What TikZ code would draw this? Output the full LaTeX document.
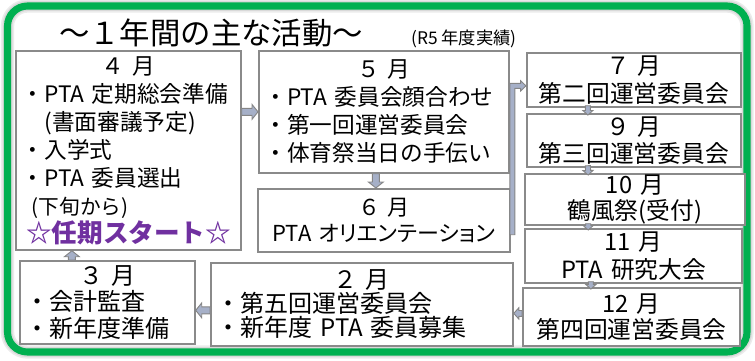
\documentclass[tikz,border=0pt]{standalone}
\usepackage{fontspec}
\setmainfont{Noto Sans CJK JP}
\newfontfamily\jpp[RawFeature=+palt]{Noto Sans CJK JP}
\usetikzlibrary{calc}
\definecolor{framegreen}{HTML}{00B050}
\definecolor{boxline}{HTML}{8A8A8A}
\definecolor{arrfill}{HTML}{A6B0C8}
\definecolor{arrline}{HTML}{858585}
\definecolor{purp}{HTML}{7030A0}
\tikzset{
  box/.style={draw=boxline, line width=1.3pt, fill=white, anchor=north west,
    inner xsep=4pt, inner ysep=0pt, align=left},
  cbox/.style={box, align=center},
  blkh/.store in=\blkh, blkH/.store in=\blkH, blkL/.store in=\blkL,
  blk/.style={draw=arrline, fill=arrfill, line width=0.7pt, line join=miter,
    blkh=2.6pt, blkH=5.6pt, blkL=4.5pt,
    to path={let \p1=(\tikztostart), \p2=(\tikztotarget), \p3=($(\p2)!\blkL!(\p1)$) in
      ($(\p1)!\blkh!90:(\p2)$) -- ($(\p3)!\blkh!90:(\p2)$) -- ($(\p3)!\blkH!90:(\p2)$)
      -- (\p2) -- ($(\p3)!\blkH!-90:(\p2)$) -- ($(\p3)!\blkh!-90:(\p2)$)
      -- ($(\p1)!\blkh!-90:(\p2)$) -- cycle}},
  blksmall/.style={blk, blkh=1.9pt, blkH=3.8pt, blkL=3.4pt},
  bent/.style={draw=arrline, fill=arrfill, line width=0.7pt, line join=miter,
    to path={let \p1=(\tikztostart), \p2=(\tikztotarget) in
      (\x1-1.9pt,\y1) -- (\x1-1.9pt,\y2+1.9pt) -- (\x2-4pt,\y2+1.9pt) -- (\x2-4pt,\y2+3.8pt)
      -- (\x2,\y2) -- (\x2-4pt,\y2-3.8pt) -- (\x2-4pt,\y2-1.9pt) -- (\x1+1.9pt,\y2-1.9pt)
      -- (\x1+1.9pt,\y1) -- cycle}}
}
\begin{document}
\begin{tikzpicture}[x=0.75pt,y=-0.75pt]
\useasboundingbox (0,0) rectangle (755,360);
% frame with soft shadow
\draw[black!8, line width=10pt, rounded corners=15pt] (7.5,6) rectangle (747,352);
\draw[black!15, line width=7.5pt, rounded corners=15pt] (7.5,6) rectangle (747,352);
\draw[framegreen, line width=5.3pt, rounded corners=15pt] (7.5,6) rectangle (747,352);

\node[font=\fontsize{22.8}{26}\selectfont, inner sep=0pt] (title) at (211,33) {〜１年間の主な活動〜};
\node[font=\fontsize{13}{15}\selectfont, inner sep=0pt] (sub) at (464,38.5) {(R5 年度実績)};

\node[box, minimum width=168.75pt, minimum height=149.25pt, text width=160pt,
  font=\fontsize{17}{21}\selectfont] (a4) at (15,50)
  {\makebox[\hsize]{４ 月}\\・PTA 定期総会準備\\\hspace*{1em}(書面審議予定)\\・入学式\\・PTA 委員選出\\%
   \hspace*{0.45em}{\fontsize{15.5}{21}\selectfont(下旬から)}\\\hspace*{0.2em}{\fontsize{19.2}{22}\selectfont\bfseries\color{purp}☆任期スタート☆}};

\node[box, minimum width=187.5pt, minimum height=91.5pt, text width=179pt,
  font=\fontsize{17}{21}\selectfont] (a5) at (258,50)
  {\makebox[\hsize]{５ 月}\\・PTA 委員会顔合わせ\\・第一回運営委員会\\・体育祭当日の手伝い};

\node[cbox, minimum width=189pt, minimum height=47.25pt, text width=181pt,
  font=\fontsize{16.5}{20}\selectfont] (a6) at (257,188)
  {６ 月\\{\jpp PTA オリエンテーション}};

\node[cbox, minimum width=160.5pt, minimum height=40.5pt, text width=152pt,
  font=\fontsize{17.8}{21}\selectfont] (a7) at (526,52) {７ 月\\第二回運営委員会};
\node[cbox, minimum width=160.5pt, minimum height=39.75pt, text width=152pt,
  font=\fontsize{17.8}{20.5}\selectfont] (a9) at (526,113) {９ 月\\第三回運営委員会};
\node[cbox, minimum width=165pt, minimum height=38.25pt, text width=157pt,
  font=\fontsize{17.8}{20}\selectfont] (a10) at (524,173) {10 月\\鶴風祭(受付)};
\node[cbox, minimum width=162.75pt, minimum height=40.5pt, text width=155pt,
  font=\fontsize{17.8}{21}\selectfont] (a11) at (524,228) {11 月\\PTA 研究大会};
\node[cbox, minimum width=162.75pt, minimum height=43.5pt, text width=155pt,
  font=\fontsize{17.8}{19.5}\selectfont] (a12) at (522,287) {12 月\\第四回運営委員会};

\node[box, minimum width=226.5pt, minimum height=62.25pt, text width=218pt,
  font=\fontsize{18}{18}\selectfont] (a2) at (210,262)
  {\makebox[\hsize]{２ 月}\\・第五回運営委員会\\・新年度 PTA 委員募集};
\node[box, minimum width=131.25pt, minimum height=62.25pt, text width=123pt,
  font=\fontsize{18}{20}\selectfont] (a3) at (19,260)
  {\makebox[\hsize]{３ 月}\\・会計監査\\・新年度準備};

% connectors
\draw[blk] (a4.east |- a5.west) to (a5.west);
\draw[blk] ([xshift=-6pt]a5.south) to ([xshift=-6pt]a6.north);
\coordinate (b0) at ([xshift=1.2pt,yshift=13.5pt]a6.south east);
\coordinate (b1) at ([yshift=-4.5pt]a7.west);
\draw[bent] (b0) to (b1);
\draw[blksmall] ([xshift=-34.5pt,yshift=1.5pt]a7.south) to ([xshift=-34.5pt,yshift=-1.5pt]a9.north);
\draw[blksmall] ([xshift=-34.5pt,yshift=1.5pt]a9.south) to ([xshift=-35pt,yshift=-1.5pt]a10.north);
\draw[blksmall] ([xshift=-35pt,yshift=1.5pt]a10.south) to ([xshift=-34pt,yshift=-1.5pt]a11.north);
\draw[blksmall] ([xshift=-32pt,yshift=1.5pt]a11.south) to ([xshift=-30.5pt,yshift=-1.5pt]a12.north);
\draw[blk, blkh=2.2pt, blkH=4.2pt, blkL=3.8pt] ([yshift=2.6pt]a12.west) to ([yshift=2.6pt]a12.west -| a2.east);
\draw[blk] ([yshift=-4.5pt]a2.west) to ([yshift=-4.5pt]a2.west -| a3.east);
\draw[blk] ([xshift=-26.6pt]a3.north) to ([xshift=-26.6pt]a3.north |- a4.south);
\end{tikzpicture}
\end{document}
